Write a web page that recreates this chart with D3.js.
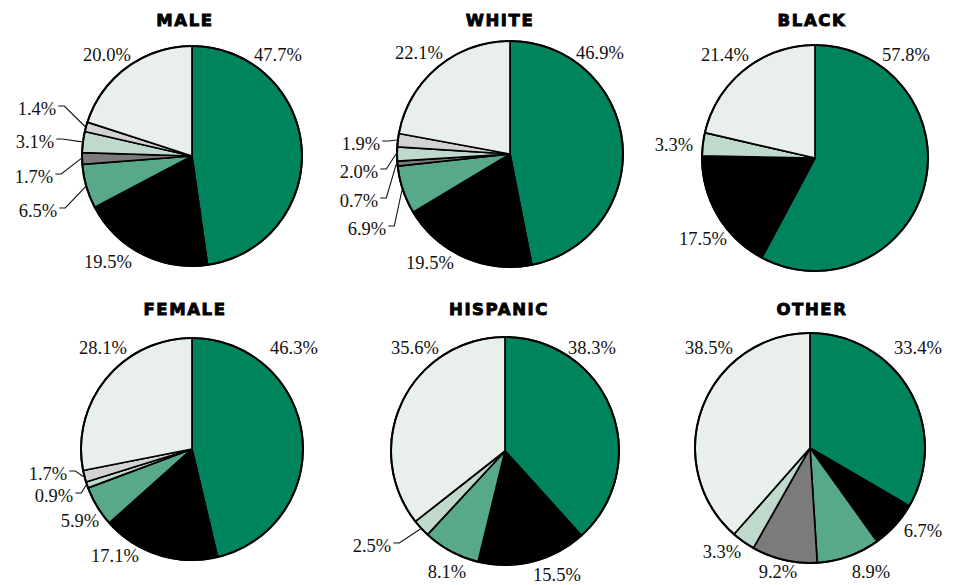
<!DOCTYPE html>
<html><head><meta charset="utf-8">
<script src="https://cdn.jsdelivr.net/npm/d3@7"></script>
<style>body{margin:0;background:#fff}svg{display:block}</style>
</head><body>
<svg id="c" width="959" height="585"></svg>
<script>
// ---- data ----
const panels = ["MALE","WHITE","BLACK","FEMALE","HISPANIC","OTHER"];
const categories = ["Cat 1","Cat 2","Cat 3","Cat 4","Cat 5","Cat 6","Cat 7"];
const maleValues     = [47.7,19.5,6.5,1.7,3.1,1.4,20.0];
const whiteValues    = [46.9,19.5,6.9,0.7,2.0,1.9,22.1];
const blackValues    = [57.8,17.5,0,0,3.3,0,21.4];
const femaleValues   = [46.3,17.1,5.9,0,0.9,1.7,28.1];
const hispanicValues = [38.3,15.5,8.1,0,2.5,0,35.6];
const otherValues    = [33.4,6.7,8.9,9.2,3.3,0,38.5];
const seriesValues = [maleValues,whiteValues,blackValues,femaleValues,hispanicValues,otherValues];

// ---- layout / style ----
const colors = ["#00845e","#000000","#58a98a","#7b7b7b","#bfdacc","#d3d3d3","#e9f0ec"];
const layout = [
  {cx:192,cy:156,r:110,tx:185,ty:26,
   labels:[[86,-95],[-84,112],[-154,61,1],[-158,27,1],[-157,-8,1],[-155,-41,1],[-85,-95]]},
  {cx:510,cy:154,r:113,tx:500,ty:26,
   labels:[[90,-95],[-80,115],[-143,81,1],[-151,53,1],[-151,24,1],[-149,-4,1],[-91,-95]]},
  {cx:815,cy:158,r:113,tx:812,ty:26,
   labels:[[91,-97],[-112,87],null,null,[-141,-7],null,[-90,-97]]},
  {cx:192,cy:449,r:111,tx:185,ty:315,
   labels:[[102,-95],[-77,113],[-112,78],null,[-138,53,1],[-144,31,1],[-89,-95]]},
  {cx:505,cy:451,r:114,tx:499,ty:315,
   labels:[[87,-97],[52,130],[-58,127],null,[-133,101,1],null,[-90,-97]]},
  {cx:810,cy:448,r:115,tx:812,ty:315,
   labels:[[108,-94],[113,89],[61,130],[-32,130],[-88,110],null,[-101,-94]]}
];

const svg = d3.select("#c");
const pie = d3.pie().sort(null).value(d => d);
const color = d3.scaleOrdinal().domain(categories).range(colors);
const fmt = d => d.toFixed(1) + "%";

panels.forEach((name, pi) => {
  const L = layout[pi];
  const vals = seriesValues[pi];
  const arcs = pie(vals);
  const arc = d3.arc().innerRadius(0).outerRadius(L.r);
  const g = svg.append("g").attr("transform", `translate(${L.cx},${L.cy})`);

  g.selectAll("path.slice").data(arcs).join("path")
    .attr("class","slice")
    .attr("d", arc)
    .attr("fill", (d,i) => color(categories[i]))
    .attr("stroke","#000").attr("stroke-width",1.7).attr("stroke-linejoin","round");

  g.append("circle").attr("r", L.r).attr("fill","none")
    .attr("stroke","#000").attr("stroke-width",2);

  // title
  svg.append("text").attr("x", L.tx).attr("y", L.ty)
    .attr("text-anchor","middle")
    .attr("font-family","'DejaVu Sans', 'Liberation Sans', sans-serif")
    .attr("font-weight","900").attr("font-size",16.5)
    .attr("letter-spacing",1.6)
    .attr("stroke","#000").attr("stroke-width",0.9)
    .text(name);

  arcs.forEach((d,i) => {
    const lab = L.labels[i];
    if (!lab || d.data === 0) return;
    const t = g.append("text").attr("x", lab[0]).attr("y", lab[1])
      .attr("text-anchor","middle")
      .attr("font-family","'Liberation Serif', 'DejaVu Serif', serif")
      .attr("font-size",18.5).attr("fill","#111")
      .text(fmt(d.data));
    if (lab[2]) {
      const w = t.node().getComputedTextLength();
      const x0 = lab[0] + w/2 + 2, y0 = lab[1] - 9;
      const mid = (d.startAngle + d.endAngle)/2;
      const ax = Math.sin(mid) * (L.r + 1), ay = -Math.cos(mid) * (L.r + 1);
      g.append("path")
        .attr("d", d3.line()([[x0,y0],[x0+6,y0],[ax,ay]]))
        .attr("fill","none").attr("stroke","#111").attr("stroke-width",1.1);
    }
  });
});
</script>
</body></html>
